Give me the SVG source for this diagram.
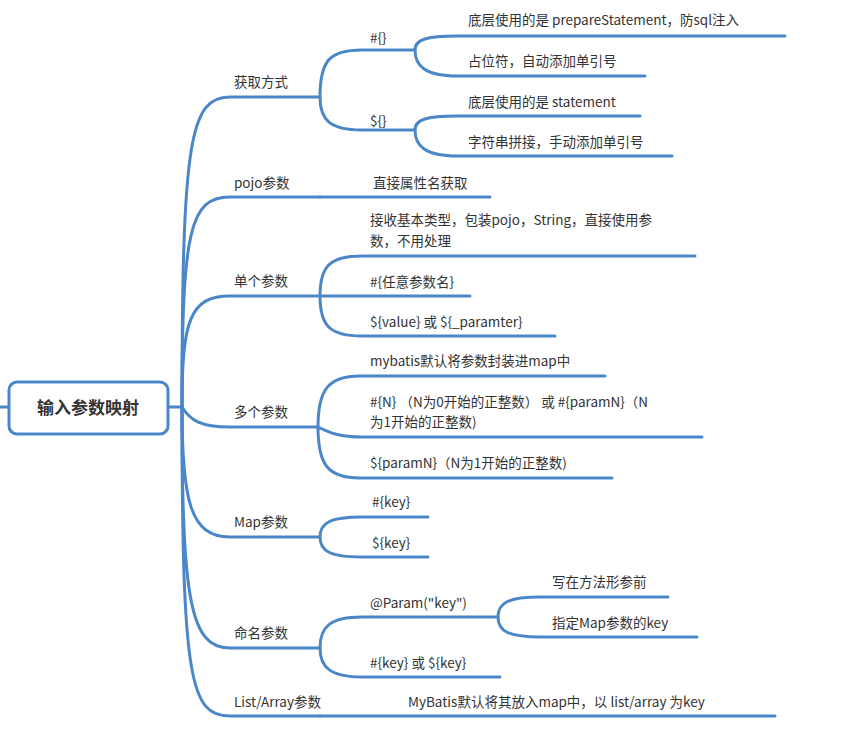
<svg xmlns="http://www.w3.org/2000/svg" width="849" height="737" viewBox="0 0 849 737">
<style>
.c{fill:none;stroke:#4a86c8;stroke-width:3;stroke-linecap:round}
.t{font-family:"Noto Sans CJK SC","Open Sans",sans-serif;font-size:13.5px;fill:#333}
.r{font-family:"Noto Sans CJK SC",sans-serif;font-size:17px;font-weight:bold;fill:#333}
</style>
<rect width="849" height="737" fill="#fff"/>
<g id="connectors">
<path class="c" d="M0 407H8M168 407H182"/>
<path class="c" d="M182 407C182 140 190 97 230 97H320"/>
<path class="c" d="M182 407C182 230 190 197 230 197H320"/>
<path class="c" d="M182 407C182 320 190 296 230 296H320"/>
<path class="c" d="M182 407C190 420 200 427 230 427H318"/>
<path class="c" d="M182 407C182 500 190 537 230 537H320"/>
<path class="c" d="M182 407C182 600 190 648 230 648H320"/>
<path class="c" d="M182 407C182 680 190 716 230 716H320"/>
<path class="c" d="M320 97C320 60 330 50 362 50H415M320 97C320 120 330 130 362 130H415"/>
<path class="c" d="M415 50C415 40 425 36 458 36H785M415 50C415 66 425 76 458 76H645"/>
<path class="c" d="M415 130C415 120 425 116 458 116H640M415 130C415 146 425 156 458 156H672"/>
<path class="c" d="M320 197H490"/>
<path class="c" d="M320 296C320 266 330 256 362 256H695M320 296H470M320 296C320 326 330 336 362 336H555"/>
<path class="c" d="M318 427C318 390 328 376 360 376H605M318 427C330 433 340 437 362 437H702M318 427C318 465 328 478 360 478H612"/>
<path class="c" d="M320 537C320 523 330 517 362 517H428M320 537C320 551 330 557 362 557H428"/>
<path class="c" d="M320 648C320 627 330 617 362 617H498M320 648C320 667 330 677 362 677H500"/>
<path class="c" d="M498 617C498 603 508 597 540 597H668M498 617C498 631 508 637 540 637H697"/>
<path class="c" d="M320 716H775"/>
</g>
<g id="root"><rect x="9" y="382" width="159" height="52" rx="8" fill="#fff" stroke="#4a86c8" stroke-width="3"/><text class="r" x="88" y="414" text-anchor="middle">输入参数映射</text></g>
<g id="n1"><text class="t" x="234" y="87">获取方式</text></g>
<g id="n2"><text class="t" x="234" y="188">pojo参数</text></g>
<g id="n3"><text class="t" x="234" y="286">单个参数</text></g>
<g id="n4"><text class="t" x="234" y="417">多个参数</text></g>
<g id="n5"><text class="t" x="234" y="527">Map参数</text></g>
<g id="n6"><text class="t" x="234" y="638">命名参数</text></g>
<g id="n7"><text class="t" x="234" y="707">List/Array参数</text></g>
<g id="n11"><text class="t" x="370" y="43">#{}</text></g>
<g id="n12"><text class="t" x="370" y="126">${}</text></g>
<g id="n111"><text class="t" x="468" y="25">底层使用的是 prepareStatement，防sql注入</text></g>
<g id="n112"><text class="t" x="468" y="66">占位符，自动添加单引号</text></g>
<g id="n121"><text class="t" x="468" y="107">底层使用的是 statement</text></g>
<g id="n122"><text class="t" x="468" y="147">字符串拼接，手动添加单引号</text></g>
<g id="n21"><text class="t" x="373" y="188">直接属性名获取</text></g>
<g id="n31"><text class="t" x="370" y="225">接收基本类型，包装pojo，String，直接使用参</text><text class="t" x="370" y="246">数，不用处理</text></g>
<g id="n32"><text class="t" x="370" y="287">#{任意参数名}</text></g>
<g id="n33"><text class="t" x="370" y="327">${value} 或 ${_paramter}</text></g>
<g id="n41"><text class="t" x="370" y="366">mybatis默认将参数封装进map中</text></g>
<g id="n42"><text class="t" x="370" y="407">#{N} （N为0开始的正整数） 或 #{paramN}（N</text><text class="t" x="370" y="427">为1开始的正整数)</text></g>
<g id="n43"><text class="t" x="370" y="468">${paramN}（N为1开始的正整数)</text></g>
<g id="n51"><text class="t" x="372" y="507">#{key}</text></g>
<g id="n52"><text class="t" x="372" y="548">${key}</text></g>
<g id="n61"><text class="t" x="370" y="608">@Param("key")</text></g>
<g id="n611"><text class="t" x="552" y="587">写在方法形参前</text></g>
<g id="n612"><text class="t" x="552" y="628">指定Map参数的key</text></g>
<g id="n62"><text class="t" x="370" y="668">#{key} 或 ${key}</text></g>
<g id="n71"><text class="t" x="408" y="707">MyBatis默认将其放入map中，以 list/array 为key</text></g>
</svg>
